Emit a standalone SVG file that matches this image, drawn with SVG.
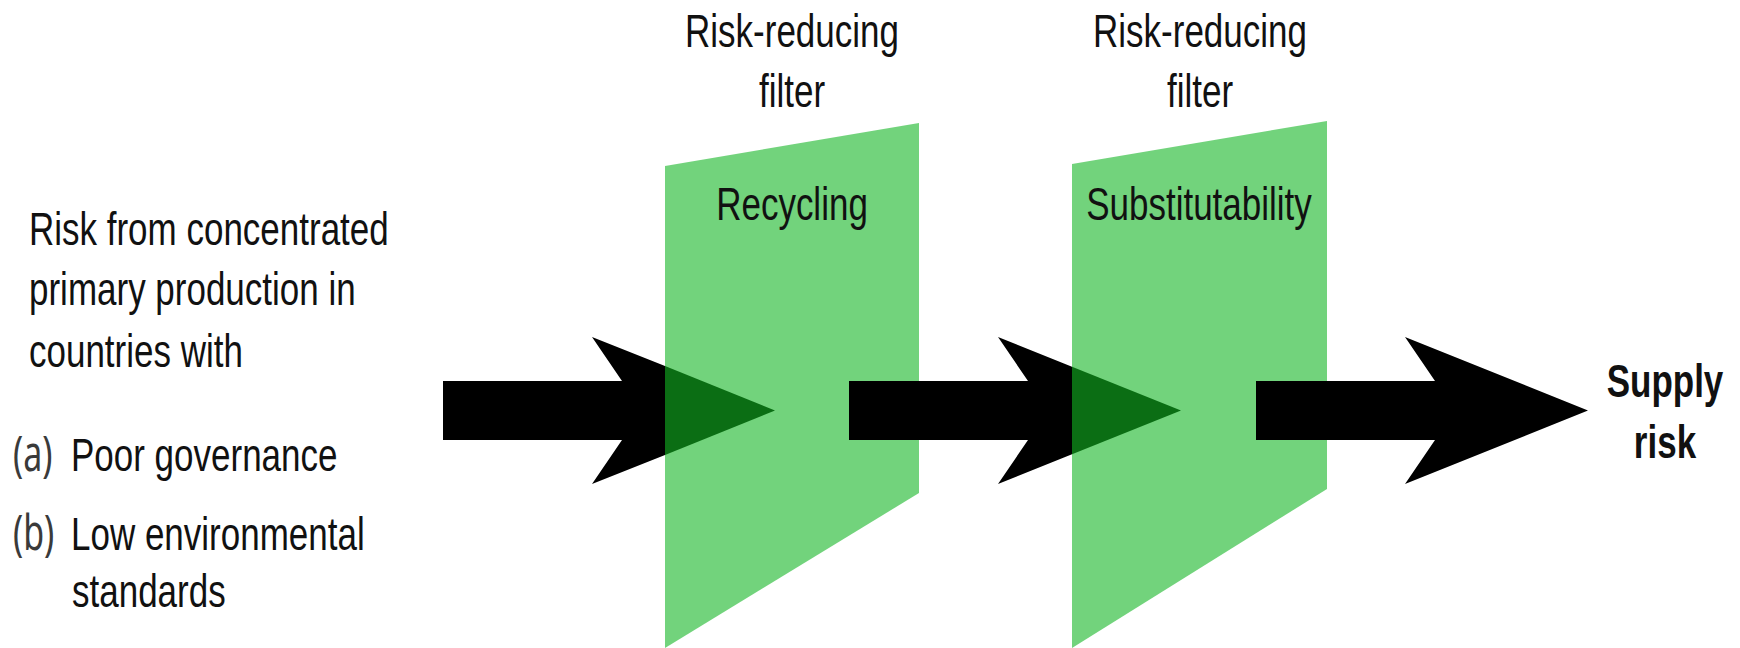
<svg xmlns="http://www.w3.org/2000/svg" width="1740" height="648" viewBox="0 0 1740 648">
  <style>
    .t { font-family: "Liberation Sans", Arial, sans-serif; font-size: 35px; fill: #111; }
    .c { text-anchor: middle; }
    .b { font-weight: bold; }
    .lbl { font-family: "Noto Sans", "Open Sans", sans-serif; font-size: 34px; fill: #3a3a3a; }
    .panel { fill: #14b624; fill-opacity: 0.6; }
    .arrow { fill: #000; }
    .overlap { fill: #0b6e14; }
  </style>
  <rect x="0" y="0" width="1740" height="648" fill="#fff"/>

  <g id="source">
    <text class="t" transform="matrix(1 0 0 1.32 29 245)">Risk from concentrated</text>
    <text class="t" transform="matrix(1 0 0 1.32 29 305)">primary production in</text>
    <text class="t" transform="matrix(1 0 0 1.32 29 367)">countries with</text>
    <text class="lbl" transform="matrix(1 0 0 1.46 13 471)">(a)</text>
    <text class="t" transform="matrix(1 0 0 1.32 71 471)">Poor governance</text>
    <text class="lbl" transform="matrix(1 0 0 1.46 13 550)">(b)</text>
    <text class="t" transform="matrix(1 0 0 1.32 71 550)">Low environmental</text>
    <text class="t" transform="matrix(1 0 0 1.32 72 607)">standards</text>
  </g>

  <g id="filter-recycling">
    <text class="t c" transform="matrix(1 0 0 1.32 792 47)">Risk-reducing</text>
    <text class="t c" transform="matrix(1 0 0 1.32 792 107)">filter</text>
    <polygon class="panel" points="665,166 919,123 919,493 665,648"/>
    <text class="t c" transform="matrix(1 0 0 1.32 792 220)">Recycling</text>
  </g>

  <g id="filter-substitutability">
    <text class="t c" transform="matrix(1 0 0 1.32 1200 47)">Risk-reducing</text>
    <text class="t c" transform="matrix(1 0 0 1.32 1200 107)">filter</text>
    <polygon class="panel" points="1072,164 1327,121 1327,489 1072,648"/>
    <text class="t c" transform="matrix(1 0 0 1.32 1199 220)">Substitutability</text>
  </g>

  <g id="supply-risk">
    <text class="t c b" transform="matrix(1 0 0 1.32 1665 397)">Supply</text>
    <text class="t c b" transform="matrix(1 0 0 1.32 1665 458)">risk</text>
  </g>

  <g id="connectors">
    <polygon class="arrow" points="443,381 622,381 592,337 665,366.1 665,454.9 592,484 622,440 443,440"/>
    <polygon class="overlap" points="665,366.1 775,410.5 665,454.9"/>
    <polygon class="arrow" points="849,381 1028,381 998,337 1072,366.7 1072,454.3 998,484 1028,440 849,440"/>
    <polygon class="overlap" points="1072,366.7 1181,410.5 1072,454.3"/>
    <polygon class="arrow" points="1256,381 1435,381 1405,337 1588,410.5 1405,484 1435,440 1256,440"/>
  </g>
</svg>
